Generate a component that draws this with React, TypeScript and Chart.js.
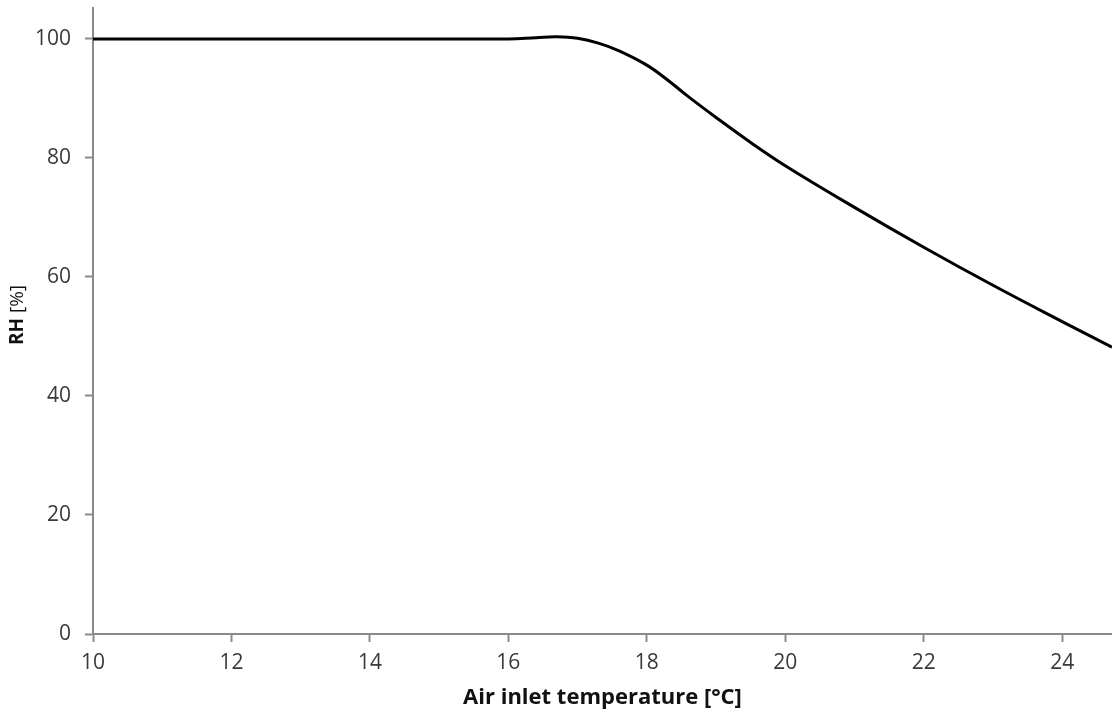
import React, { useEffect, useRef } from "react";
import { Chart, registerables } from "chart.js";

Chart.register(...registerables);

// Air inlet temperature [°C] vs. relative humidity [%]
const temperatures: number[] = [10, 12, 14, 16, 16.4, 16.7, 17.0, 17.3, 17.6, 18.0, 18.3, 18.6, 19.0, 19.5, 20, 21, 22, 23, 24, 24.72];
const humidity: number[] = [100, 100, 100, 100, 100.2, 100.35, 100.1, 99.3, 98.0, 95.6, 93.1, 90.3, 86.8, 82.6, 78.7, 71.7, 65.0, 58.6, 52.5, 48.2];

const xTicks: number[] = [10, 12, 14, 16, 18, 20, 22, 24];
const yTicks: number[] = [0, 20, 40, 60, 80, 100];

const xTitle = "Air inlet temperature [°C]";
const yTitleBold = "RH";
const yTitleRest = " [%]";

const FONT = "'Open Sans', 'Noto Sans', sans-serif";
const AXIS_GREY = "#8a8a8a";
const TEXT = "#3a3a3a";

// Draws the y-axis title with a bold "RH" followed by a regular "[%]"
const yTitlePlugin = {
  id: "yTitleMixed",
  afterDraw(chart: Chart) {
    const { ctx, chartArea } = chart;
    ctx.save();
    const cx = 18;
    const cy = (chartArea.top + chartArea.bottom) / 2 - 6;
    ctx.translate(cx, cy);
    ctx.rotate(-Math.PI / 2);
    ctx.fillStyle = "#111";
    ctx.textBaseline = "middle";
    ctx.font = `bold 19px ${FONT}`;
    const w1 = ctx.measureText(yTitleBold).width;
    ctx.font = `19px ${FONT}`;
    const w2 = ctx.measureText(yTitleRest).width;
    const start = -(w1 + w2) / 2;
    ctx.textAlign = "left";
    ctx.font = `bold 19px ${FONT}`;
    ctx.fillText(yTitleBold, start, 0);
    ctx.font = `19px ${FONT}`;
    ctx.fillText(yTitleRest, start + w1, 0);
    ctx.restore();
  },
};

export default function App() {
  const canvasRef = useRef<HTMLCanvasElement | null>(null);

  useEffect(() => {
    if (!canvasRef.current) return;
    const chart = new Chart(canvasRef.current, {
      type: "line",
      data: {
        datasets: [
          {
            data: temperatures.map((t, i) => ({ x: t, y: humidity[i] })),
            borderColor: "#000",
            borderWidth: 3,
            pointRadius: 0,
            fill: false,
            tension: 0.4,
          },
        ],
      },
      options: {
        animation: false,
        responsive: true,
        maintainAspectRatio: false,
        layout: { padding: { top: 8, right: 0, left: 0, bottom: 0 } },
        plugins: {
          legend: { display: false },
          tooltip: { enabled: false },
        },
        scales: {
          x: {
            type: "linear",
            min: 10,
            max: 24.72,
            afterBuildTicks: (scale: any) => {
              scale.ticks = xTicks.map((v) => ({ value: v }));
            },
            afterFit: (scale: any) => {
              scale.height = 79;
              scale.paddingLeft = 0;
              scale.paddingRight = 0;
            },
            border: { display: true, color: AXIS_GREY, width: 2 },
            grid: {
              display: true,
              drawOnChartArea: false,
              drawTicks: true,
              tickLength: 8,
              tickWidth: 2,
              tickColor: AXIS_GREY,
            },
            ticks: {
              color: TEXT,
              padding: 8,
              font: { family: FONT, size: 21 },
              maxRotation: 0,
            },
            title: {
              display: true,
              text: xTitle,
              color: "#111",
              font: { family: FONT, size: 22, weight: "bold" },
              padding: { top: 0, bottom: 2 },
            },
          },
          y: {
            type: "linear",
            min: 0,
            max: 105.2,
            afterBuildTicks: (scale: any) => {
              scale.ticks = yTicks.map((v) => ({ value: v }));
            },
            afterFit: (scale: any) => {
              scale.width = 93;
              scale.paddingTop = 0;
              scale.paddingBottom = 0;
            },
            border: { display: true, color: AXIS_GREY, width: 2 },
            grid: {
              display: true,
              drawOnChartArea: false,
              drawTicks: true,
              tickLength: 8,
              tickWidth: 2,
              tickColor: AXIS_GREY,
            },
            ticks: {
              color: TEXT,
              padding: 14,
              font: { family: FONT, size: 21 },
            },
          },
        },
      },
      plugins: [yTitlePlugin],
    });
    return () => chart.destroy();
  }, []);

  return (
    <div style={{ position: "fixed", left: 0, top: 0, width: 1112, height: 713, background: "#fff" }}>
      <canvas ref={canvasRef} />
    </div>
  );
}
